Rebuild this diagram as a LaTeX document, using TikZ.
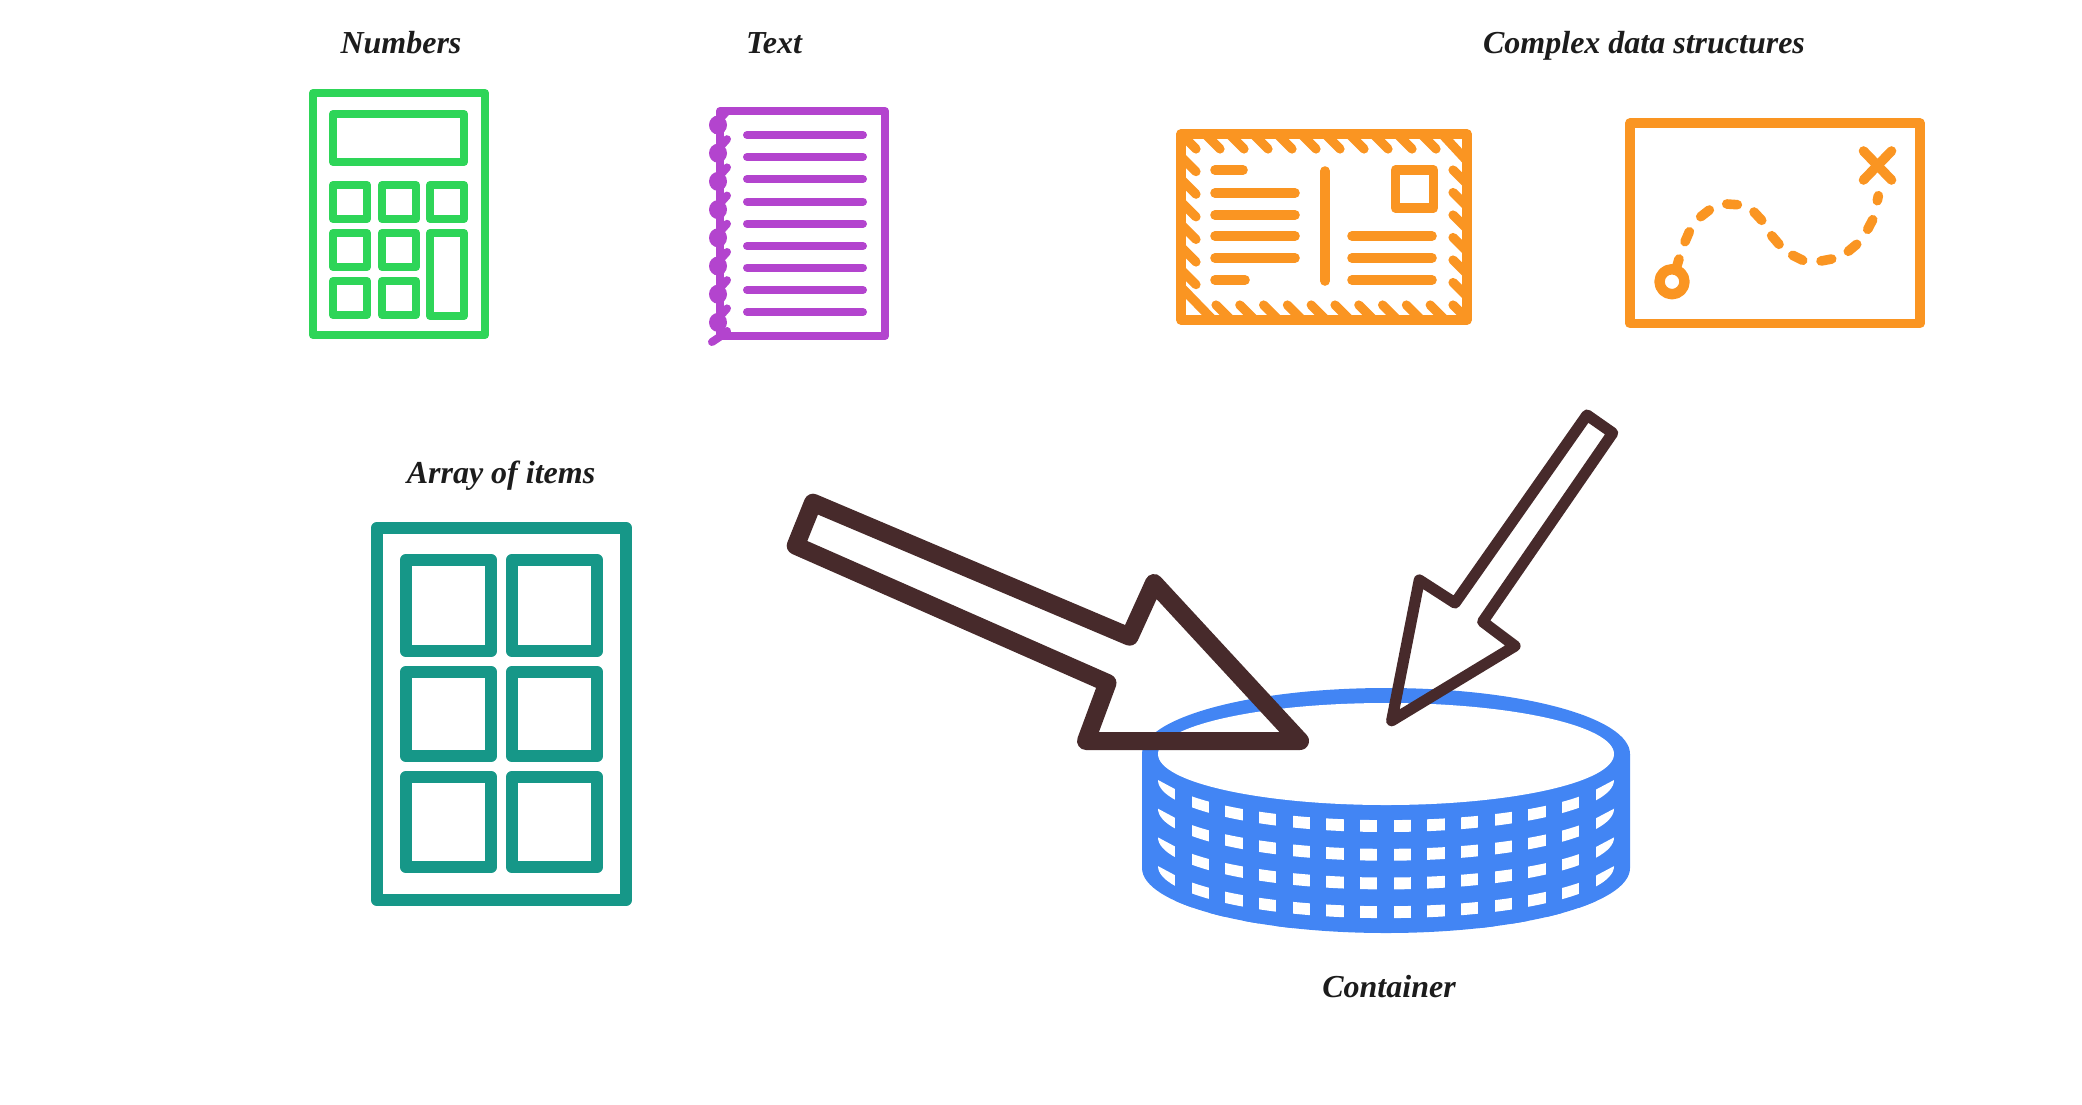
\documentclass[tikz,border=0pt]{standalone}
\usepackage{fontspec}
\newfontfamily\labelfont{Liberation Serif}
\definecolor{calcgreen}{HTML}{2ED558}
\definecolor{notepurple}{HTML}{B344CE}
\definecolor{maporange}{HTML}{FA9522}
\definecolor{arrayteal}{HTML}{169788}
\definecolor{diskblue}{HTML}{4285F4}
\definecolor{arrowbrown}{HTML}{472A2B}
\definecolor{labelink}{HTML}{1C1C1C}
\begin{document}
\begin{tikzpicture}[x=0.5pt,y=-0.5pt]
    \tikzset{
        label/.style={anchor=base, text=labelink, font=\labelfont\fontsize{16}{18}\selectfont\bfseries\itshape},
        calcline/.style={draw=calcgreen, line width=4pt, line join=round},
        noteline/.style={draw=notepurple, line width=4pt, line cap=round, line join=round},
        orangeline/.style={draw=maporange, line width=4.8pt, line cap=round, line join=round},
        tickline/.style={draw=maporange, line width=4.6pt, line cap=round},
        arrayline/.style={draw=arrayteal, line width=6.2pt, line join=round},
        bigarrow/.style={draw=arrowbrown, line width=9pt, line join=round},
        smallarrow/.style={draw=arrowbrown, line width=5.6pt, line join=round}
    }
    \useasboundingbox (0,0) rectangle (2082,1104);
    \node[label] (numbers) at (401,53) {Numbers};
    \node[label] (text) at (774,53) {Text};
    \node[label] (complex) at (1644,53) {Complex data structures};
    \node[label] (items) at (501,483) {Array of items};
    \node[label] (container) at (1389,997) {Container};

    \draw[calcline] (313,93) rectangle (485,335);
    \draw[calcline] (333,114) rectangle (464,162);
    \foreach \cx in {333,382} {
        \foreach \cy in {185,233,281} {
            \draw[calcline] (\cx,\cy) rectangle ++(34,34);
        }
    }
    \draw[calcline] (430,185) rectangle (464,219);
    \draw[calcline] (430,233) rectangle (464,316);

    \draw[noteline] (720,336) -- (720,111) -- (885,111) -- (885,336) -- cycle;
    \foreach \ly in {135,157,179,201.5,223.5,246,267.5,290,312} {
        \draw[noteline] (747,\ly) -- (863,\ly);
    }
    \foreach \k in {0,...,7} {
        \fill[notepurple] (718,125+\k*28.2) ellipse [x radius=9, y radius=9.5];
        \draw[noteline] (727,111+\k*28.2) -- (719,120+\k*28.2);
    }
    \draw[noteline] (727,331) -- (721,336) -- (712,342);

    \draw[draw=maporange, line width=4.7pt, line join=round] (1181,134) rectangle (1467,320);
    \foreach \j in {0,...,9} {
        \draw[tickline] (1205+\j*24,134) -- (1220+\j*24,149);
        \draw[tickline] (1216+\j*23.8,305) -- (1230+\j*23.8,319);
    }
    \foreach \k in {0,...,6} {
        \draw[tickline] (1181,134+\k*22.6) -- (1196,149+\k*22.6);
        \draw[tickline] (1453,170+\k*22.5) -- (1467,184+\k*22.5);
    }
    \draw[tickline] (1442,134) -- (1467,161);
    \draw[tickline] (1181,287) -- (1213,320);
    \draw[orangeline] (1215,170) -- (1243,170);
    \foreach \ly in {193,215,236,258} {
        \draw[orangeline] (1215,\ly) -- (1295,\ly);
    }
    \draw[orangeline] (1215,280) -- (1245,280);
    \draw[orangeline] (1325,171) -- (1325,281);
    \draw[orangeline] (1395.5,170) rectangle (1433.5,208);
    \foreach \ly in {236,258,280} {
        \draw[orangeline] (1352,\ly) -- (1432,\ly);
    }

    \draw[draw=maporange, line width=4.7pt, line join=round] (1630,123) rectangle (1920,323.5);
    \draw[orangeline] (1863.5,151) -- (1891.5,180);
    \draw[orangeline] (1891.5,151) -- (1863.5,180);
    \draw[orangeline, line width=5.2pt] (1672,281.7) circle (12.5);
    \foreach \ax/\ay/\bx/\by in {1679/259/1676.7/266.7,1689.3/231.7/1685/241.7,1709.3/210/1700.7/216.7,1726.7/204/1737.3/204.7,1754/212/1761.7/220.3,1771.7/235.7/1779/244.3,1792.7/255.3/1802.7/260.3,1821/261/1831.7/259,1848.3/251.3/1856.7/244.3,1867.7/229.3/1872.7/219.7,1877.3/200.7/1878.3/195.7} {
        \draw[orangeline] (\ax,\ay) -- (\bx,\by);
    }

    \draw[arrayline] (377,528) rectangle (626,900);
    \foreach \cx in {406,512} {
        \draw[arrayline] (\cx,560) rectangle ++(85,91);
        \draw[arrayline] (\cx,672) rectangle ++(85,84);
        \draw[arrayline] (\cx,777) rectangle ++(85,90);
    }

    \fill[diskblue] (1386,754) ellipse [x radius=244, y radius=66];
    \fill[diskblue] (1142,754) -- (1630,754) -- (1630,868) arc [start angle=0, end angle=180, x radius=244, y radius=65] -- cycle;
    \foreach \k in {0,...,3} {
        \fill[white] (1158,780+\k*28.7) arc [start angle=180, end angle=0, x radius=228, y radius=52]
            -- (1597,789+\k*28.7) arc [start angle=22.2, end angle=157.8, x radius=228, y radius=50] -- cycle;
    }
    \begin{scope}
        \clip (1142,754) -- (1630,754) -- (1630,868) arc [start angle=0, end angle=180, x radius=244, y radius=65] -- cycle;
        \foreach \j in {0,...,12} {
            \fill[diskblue] (1175.4+\j*33.67,770) rectangle (1191.7+\j*33.67,930);
        }
    \end{scope}
    \fill[white] (1386,754) ellipse [x radius=228, y radius=51];

    \draw[bigarrow] (813,502.7) -- (1129.6,636.7) -- (1154,583) -- (1300,741) -- (1086,741) -- (1107.5,683) -- (795.7,545.7) -- cycle;
    \draw[smallarrow] (1587,415) -- (1612.7,433) -- (1482.7,621.7) -- (1515,646) -- (1391.7,720.7) -- (1419.3,580) -- (1455,603) -- cycle;
\end{tikzpicture}
\end{document}
